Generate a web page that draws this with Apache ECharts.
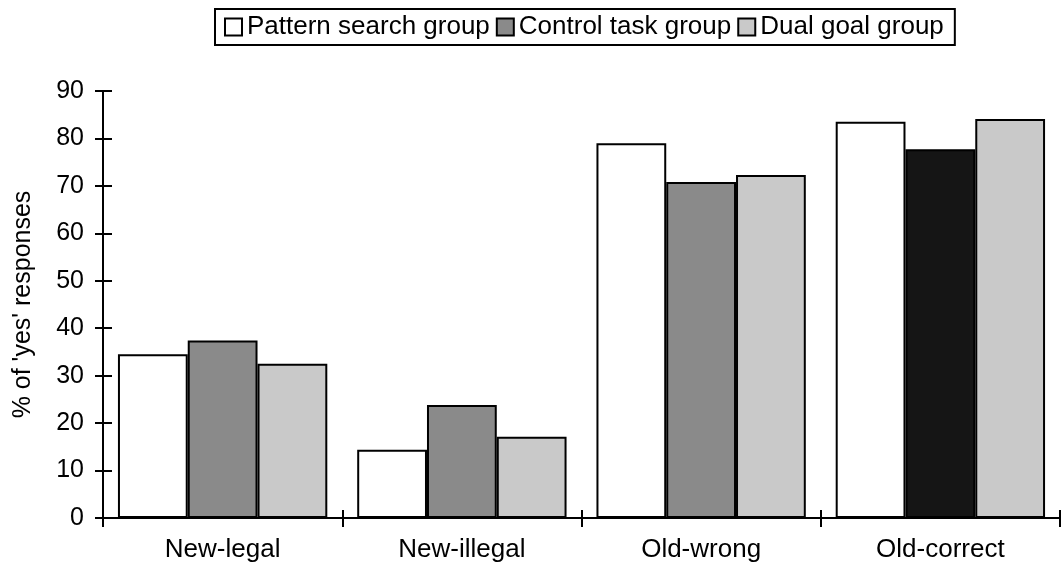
<!DOCTYPE html>
<html>
<head>
<meta charset="utf-8">
<script src="https://cdn.jsdelivr.net/npm/echarts@6/dist/echarts.min.js"></script>
<style>
  html, body { margin: 0; padding: 0; background: #fff; }
  #chart { width: 1062px; height: 569px; }
</style>
</head>
<body>
<div id="chart"></div>
<script>
// categories and group values (% of 'yes' responses)
var categories = ['New-legal', 'New-illegal', 'Old-wrong', 'Old-correct'];
var patternSearch = [34.5, 14.4, 79, 83.5];
var controlTask = [37.4, 23.8, 70.8, 77.7];
var dualGoal = [32.5, 17.1, 72.3, 84.1];
var yTicks = [0, 10, 20, 30, 40, 50, 60, 70, 80, 90];

var FONT = 'Liberation Sans, Arial, sans-serif';
var chart = echarts.init(document.getElementById('chart'));

var barBorder = { borderColor: '#000', borderWidth: 2 };

// the control bar of Old-correct is printed almost black
var controlData = controlTask.map(function (v, i) {
    if (categories[i] === 'Old-correct') {
        return { value: v, itemStyle: { color: '#151515' } };
    }
    return v;
});

var valueAxisBase = {
    type: 'value',
    min: yTicks[0],
    max: yTicks[yTicks.length - 1],
    interval: 10,
    splitLine: { show: false },
    axisLine: { show: true, lineStyle: { color: '#000', width: 2 } }
};

chart.setOption({
    animation: false,
    textStyle: { fontFamily: FONT, color: '#000' },
    legend: {
        left: 215,
        top: 9,
        itemWidth: 17,
        itemHeight: 17,
        itemGap: 6,
        padding: [5, 11, 5, 9],
        borderColor: '#000',
        borderWidth: 2,
        icon: 'rect',
        selectedMode: false,
        itemStyle: { borderColor: '#000', borderWidth: 2 },
        textStyle: { fontFamily: FONT, fontSize: 26, color: '#000' },
        data: ['Pattern search group', 'Control task group', 'Dual goal group']
    },
    grid: { left: 103, right: 2, top: 91, bottom: 51 },
    xAxis: [{
        type: 'category',
        data: categories,
        position: 'bottom',
        axisLine: { lineStyle: { color: '#000', width: 2 } },
        axisTick: { show: true, length: 9, lineStyle: { color: '#000', width: 2 } },
        axisLabel: { fontFamily: FONT, fontSize: 26, color: '#000', margin: 19 }
    }, {
        type: 'category',
        data: categories,
        position: 'bottom',
        axisLine: { show: false },
        axisTick: { show: true, inside: true, length: 8, lineStyle: { color: '#000', width: 2 } },
        axisLabel: { show: false }
    }],
    yAxis: [Object.assign({}, valueAxisBase, {
        name: "% of 'yes' responses",
        nameLocation: 'middle',
        nameRotate: 90,
        nameGap: 67,
        nameTextStyle: { fontFamily: FONT, fontSize: 25, color: '#000' },
        axisTick: { show: true, length: 8, lineStyle: { color: '#000', width: 2 } },
        axisLabel: { fontFamily: FONT, fontSize: 25, color: '#000', margin: 19 }
    }), Object.assign({}, valueAxisBase, {
        position: 'left',
        axisLine: { show: false },
        axisTick: { show: true, inside: true, length: 9, lineStyle: { color: '#000', width: 2 } },
        axisLabel: { show: false }
    })],
    series: [{
        name: 'Pattern search group',
        type: 'bar',
        data: patternSearch,
        barGap: '0%',
        barCategoryGap: '12.5%',
        itemStyle: Object.assign({ color: '#ffffff' }, barBorder)
    }, {
        name: 'Control task group',
        type: 'bar',
        data: controlData,
        itemStyle: Object.assign({ color: '#8a8a8a' }, barBorder)
    }, {
        name: 'Dual goal group',
        type: 'bar',
        data: dualGoal,
        itemStyle: Object.assign({ color: '#c9c9c9' }, barBorder)
    }]
});
</script>
</body>
</html>
